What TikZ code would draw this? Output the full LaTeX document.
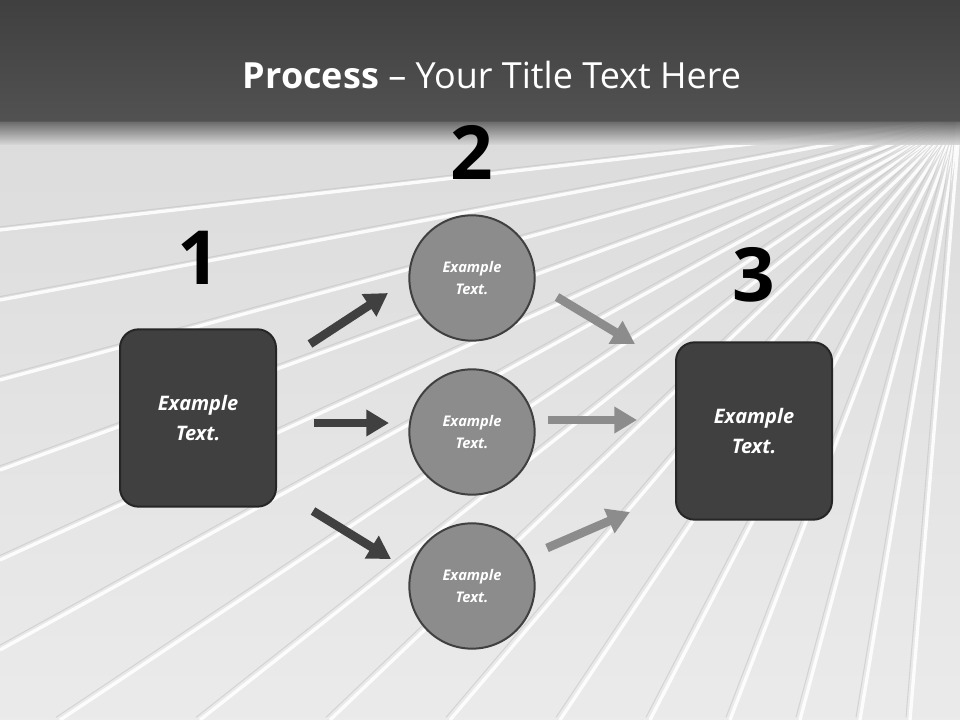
\documentclass[tikz,border=0pt]{standalone}
\usepackage{fontspec}
\setmainfont{Open Sans}
\usetikzlibrary{arrows.meta}
\definecolor{dk}{HTML}{404040}
\definecolor{md}{HTML}{8C8C8C}
\tikzset{
 sqbox/.style={draw=black!85,line width=1.5pt,fill=dk,rounded corners=14pt,minimum width=117pt,minimum height=133pt,text=white,font=\bfseries\itshape\fontsize{15}{22}\selectfont,align=center},
 circ/.style={circle,draw=dk,line width=1.5pt,fill=md,minimum size=94pt,text=white,font=\bfseries\itshape\fontsize{11}{17}\selectfont,align=center},
 num/.style={font=\bfseries\fontsize{56}{56}\selectfont,text=black},
 darr/.style={draw=dk,line width=6.5pt,-{Triangle[length=17pt,width=19pt]}},
 larr/.style={draw=md,line width=6.5pt,-{Triangle[length=17pt,width=19pt]}},
}
\begin{document}
\begin{tikzpicture}[x=0.75pt,y=-0.75pt]
\useasboundingbox (0,0) rectangle (960,720);
\shade[top color=white!85!black,bottom color=white!92!black] (0,0) rectangle (960,720);
\foreach \a/\b in {0/230,0/300,0/380,0/470,0/560,0/650,60/720,200/720,330/720,450/720,560/720,650/720,730/720,800/720,860/720,910/720}{
 \draw[white,line width=2.5pt,opacity=0.9] (960,120) -- (\a,\b);
 \draw[black!25,line width=0.8pt,opacity=0.5] ([xshift=-3pt,yshift=2pt]960,120) -- ([xshift=-3pt,yshift=2pt]\a,\b);
}
\shade[top color=black!75,bottom color=black!68] (0,0) rectangle (960,122);
\shade[top color=black!62,bottom color=black!15,opacity=0.9] (0,122) rectangle (960,145);
\node[text=white,font=\fontsize{27}{30}\selectfont] (title) at (492,75) {\textbf{Process} -- Your Title Text Here};
\node[num] (n1) at (199,258) {1};
\node[num] (n2) at (472,152) {2};
\node[num] (n3) at (754,275) {3};
\node[sqbox] (L) at (198,418) {Example\\Text.};
\node[sqbox] (R) at (754,431) {Example\\Text.};
\node[circ] (c1) at (472,278) {Example\\Text.};
\node[circ] (c2) at (472,432) {Example\\Text.};
\node[circ] (c3) at (472,586) {Example\\Text.};
\coordinate (a1s) at (310,344); \coordinate (a1e) at (388,293);
\coordinate (a2s) at (314,423); \coordinate (a2e) at (389,423);
\coordinate (a3s) at (313,511); \coordinate (a3e) at (391,559);
\coordinate (b1s) at (557,297); \coordinate (b1e) at (635,344);
\coordinate (b2s) at (548,420); \coordinate (b2e) at (637,420);
\coordinate (b3s) at (547,548); \coordinate (b3e) at (630,512);
\draw[darr] (a1s) -- (a1e);
\draw[darr] (a2s) -- (a2e);
\draw[darr] (a3s) -- (a3e);
\draw[larr] (b1s) -- (b1e);
\draw[larr] (b2s) -- (b2e);
\draw[larr] (b3s) -- (b3e);
\end{tikzpicture}
\end{document}
